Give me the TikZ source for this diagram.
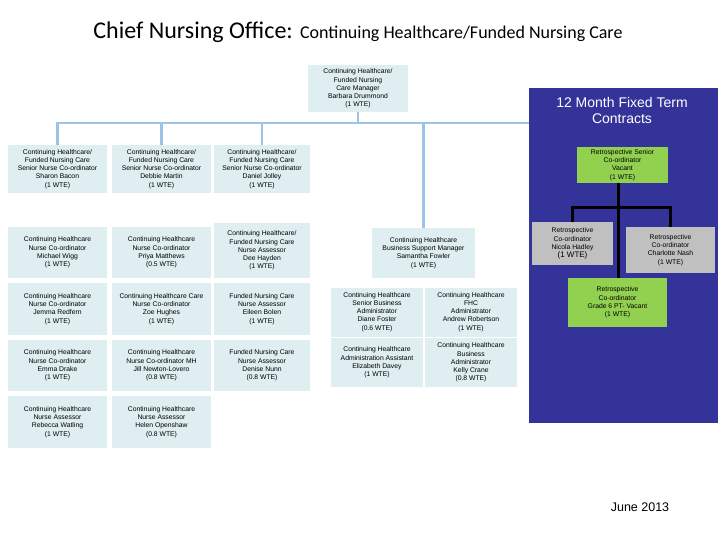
\documentclass[tikz,border=0pt]{standalone}
\usepackage{fontspec}
\setmainfont{Liberation Sans}
\newfontfamily\titlefont{Carlito}
\definecolor{boxfill}{RGB}{222,238,241}
\definecolor{linkblue}{RGB}{157,195,230}
\definecolor{panelblue}{RGB}{51,51,153}
\definecolor{retrogreen}{RGB}{146,208,80}
\definecolor{retrogray}{RGB}{192,192,192}
\begin{document}
\begin{tikzpicture}[x=1pt,y=-1pt,
  staff/.style={fill=boxfill, draw=none, inner sep=1pt, align=center,
    font=\fontsize{6.8}{8.2}\selectfont},
  retro/.style={staff, fill=retrogreen},
  retrogrey/.style={staff, fill=retrogray},
  link/.style={draw=linkblue, line width=2.5pt},
  trunk/.style={draw=black, line width=3pt}]
\useasboundingbox (0,0) rectangle (720,540);
\node[font=\titlefont] (title) at (358,32)
  {\fontsize{24}{28}\selectfont Chief Nursing Office: \fontsize{18}{20}\selectfont Continuing Healthcare/Funded Nursing Care};
% fixed term panel
\node[fill=panelblue, minimum width=189pt, minimum height=335pt, inner sep=0pt] (panel) at (623.5,255.5) {};
\node[text=white, align=center, font=\fontsize{14}{16}\selectfont] (fixed) at (622,110) {12 Month Fixed Term\\Contracts};
% manager
\node[staff, minimum width=100pt, minimum height=47pt] (mgr) at (358,88.5)
  {Continuing Healthcare/\\Funded Nursing\\Care Manager\\Barbara Drummond\\(1 WTE)};
\coordinate (bar) at (358,123);
% senior co-ordinators
\node[staff, minimum width=99pt, minimum height=48pt] (sbacon) at (57.5,169)
  {Continuing Healthcare/\\Funded Nursing Care\\Senior Nurse Co-ordinator\\Sharon Bacon\\(1 WTE)};
\node[staff, minimum width=99pt, minimum height=48pt] (dmartin) at (161.5,169)
  {Continuing Healthcare/\\Funded Nursing Care\\Senior Nurse Co-ordinator\\Debbie Martin\\(1 WTE)};
\node[staff, minimum width=96pt, minimum height=48pt] (djolley) at (262,169)
  {Continuing Healthcare/\\Funded Nursing Care\\Senior Nurse Co-ordinator\\Daniel Jolley\\(1 WTE)};
\node[staff, minimum width=103pt, minimum height=50pt] (sfowler) at (423.5,253)
  {Continuing Healthcare\\Business Support Manager\\Samantha Fowler\\(1 WTE)};
\draw[link] (mgr.south) -- (bar);
\draw[link] (sbacon.north) -- (sbacon.north |- bar) -- (bar -| panel.west);
\draw[link] (dmartin.north) -- (dmartin.north |- bar);
\draw[link] (djolley.north) -- (djolley.north |- bar);
\draw[link] (sfowler.north) -- (sfowler.north |- bar);
% nurse co-ordinators and assessors
\node[staff, minimum width=99pt, minimum height=51pt] (mwigg) at (57.5,252.5)
  {Continuing Healthcare\\Nurse Co-ordinator\\Michael Wigg\\(1 WTE)};
\node[staff, minimum width=99pt, minimum height=51pt] (pmatthews) at (161.5,252.5)
  {Continuing Healthcare\\Nurse Co-ordinator\\Priya Matthews\\(0.5 WTE)};
\node[staff, minimum width=96pt, minimum height=55pt] (dhayden) at (262,250.5)
  {Continuing Healthcare/\\Funded Nursing Care\\Nurse Assessor\\Dee Hayden\\(1 WTE)};
\node[staff, minimum width=99pt, minimum height=52pt] (jredfern) at (57.5,309)
  {Continuing Healthcare\\Nurse Co-ordinator\\Jemma Redfern\\(1 WTE)};
\node[staff, minimum width=99pt, minimum height=52pt] (zhughes) at (161.5,309)
  {Continuing Healthcare Care\\Nurse Co-ordinator\\Zoe Hughes\\(1 WTE)};
\node[staff, minimum width=96pt, minimum height=52pt] (ebolen) at (262,309)
  {Funded Nursing Care\\Nurse Assessor\\Eileen Bolen\\(1 WTE)};
\node[staff, minimum width=99pt, minimum height=51pt] (edrake) at (57.5,365.5)
  {Continuing Healthcare\\Nurse Co-ordinator\\Emma Drake\\(1 WTE)};
\node[staff, minimum width=99pt, minimum height=51pt] (jnewton) at (161.5,365.5)
  {Continuing Healthcare\\Nurse Co-ordinator MH\\Jill Newton-Lovero\\(0.8 WTE)};
\node[staff, minimum width=96pt, minimum height=51pt] (dnunn) at (262,365.5)
  {Funded Nursing Care\\Nurse Assessor\\Denise Nunn\\(0.8 WTE)};
\node[staff, minimum width=99pt, minimum height=52pt] (rwatling) at (57.5,422)
  {Continuing Healthcare\\Nurse Assessor\\Rebecca Watling\\(1 WTE)};
\node[staff, minimum width=99pt, minimum height=52pt] (hopenshaw) at (161.5,422)
  {Continuing Healthcare\\Nurse Assessor\\Helen Openshaw\\(0.8 WTE)};
% business support
\node[staff, minimum width=92pt, minimum height=49pt] (dfoster) at (377,312)
  {Continuing Healthcare\\Senior Business\\Administrator\\Diane Foster\\(0.6 WTE)};
\node[staff, minimum width=92pt, minimum height=49pt] (arobertson) at (471,312)
  {Continuing Healthcare\\FHC\\Administrator\\Andrew Robertson\\(1 WTE)};
\node[staff, minimum width=92pt, minimum height=49pt] (edavey) at (377,362.5)
  {Continuing Healthcare\\Administration Assistant\\Elizabeth Davey\\(1 WTE)};
\node[staff, minimum width=92pt, minimum height=49pt] (kcrane) at (471,362.5)
  {Continuing Healthcare\\Business\\Administrator\\Kelly Crane\\(0.8 WTE)};
% retrospective team
\node[retro, minimum width=91pt, minimum height=36pt] (rsenior) at (622.5,165)
  {Retrospective Senior\\Co-ordinator\\Vacant\\(1 WTE)};
\node[retrogrey, minimum width=81pt, minimum height=43pt] (nhadley) at (572.5,243.5)
  {Retrospective\\Co-ordinator\\Nicola Hadley\\{\fontsize{8}{9}\selectfont (1 WTE)}};
\node[retrogrey, minimum width=89pt, minimum height=46pt] (cnash) at (670.5,250)
  {Retrospective\\Co-ordinator\\Charlotte Nash\\(1 WTE)};
\node[retro, minimum width=99pt, minimum height=49pt] (rvacant) at (617.5,302.5)
  {Retrospective\\Co-ordinator\\Grade 6 PT- Vacant\\(1 WTE)};
\coordinate (split) at (618,208);
\draw[trunk] (rsenior.south -| split) -- (rvacant.north -| split);
\draw[trunk] (nhadley.north) -- (nhadley.north |- split) -- (cnash.north |- split) -- (cnash.north);
\node[font=\fontsize{12.5}{14}\selectfont] (date) at (640,507) {June 2013};
\end{tikzpicture}
\end{document}
